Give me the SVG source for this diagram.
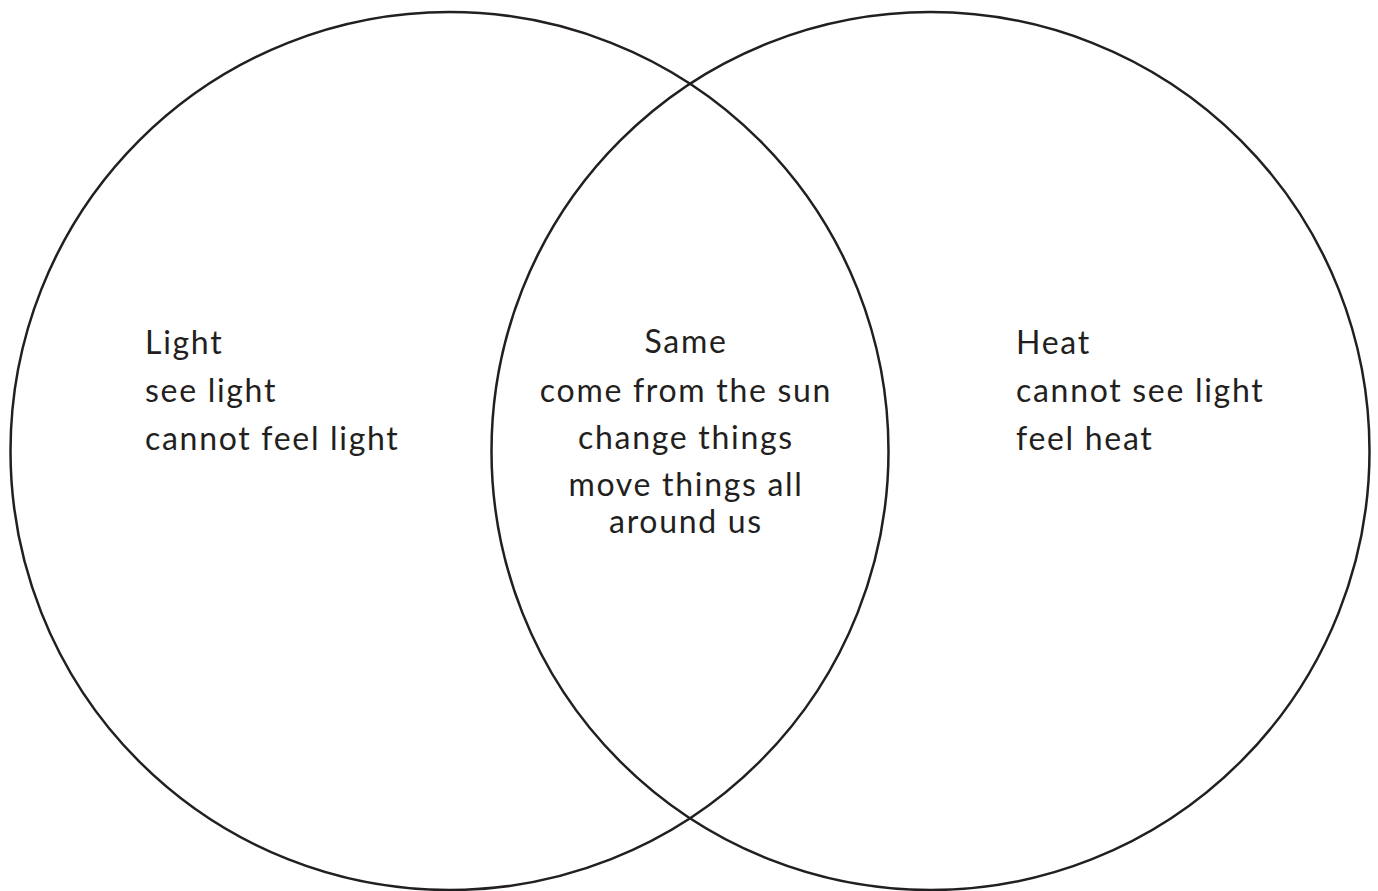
<svg xmlns="http://www.w3.org/2000/svg" width="1378" height="891" viewBox="0 0 1378 891">
<style>
.c{fill:none;stroke:#231f20;stroke-width:2.5}
.t{font-family:"Lato","Liberation Sans",sans-serif;font-size:32px;letter-spacing:1.7px;fill:#231f20}
.m{text-anchor:middle}
</style>
<rect width="1378" height="891" fill="#fff"/>
<g id="light-circle">
<circle class="c" cx="449.5" cy="451" r="439"/>
<text class="t" x="145" y="354">Light</text>
<text class="t" x="145" y="402">see light</text>
<text class="t" x="145" y="450">cannot feel light</text>
</g>
<g id="heat-circle">
<circle class="c" cx="930.5" cy="451" r="439"/>
<text class="t" x="1016" y="354">Heat</text>
<text class="t" x="1016" y="402">cannot see light</text>
<text class="t" x="1016" y="450">feel heat</text>
</g>
<g id="same">
<text class="t m" x="686" y="353">Same</text>
<text class="t m" x="686" y="402">come from the sun</text>
<text class="t m" x="686" y="449">change things</text>
<text class="t m" x="686" y="496">move things all</text>
<text class="t m" x="686" y="533">around us</text>
</g>
<g id="connectors"></g>
</svg>
